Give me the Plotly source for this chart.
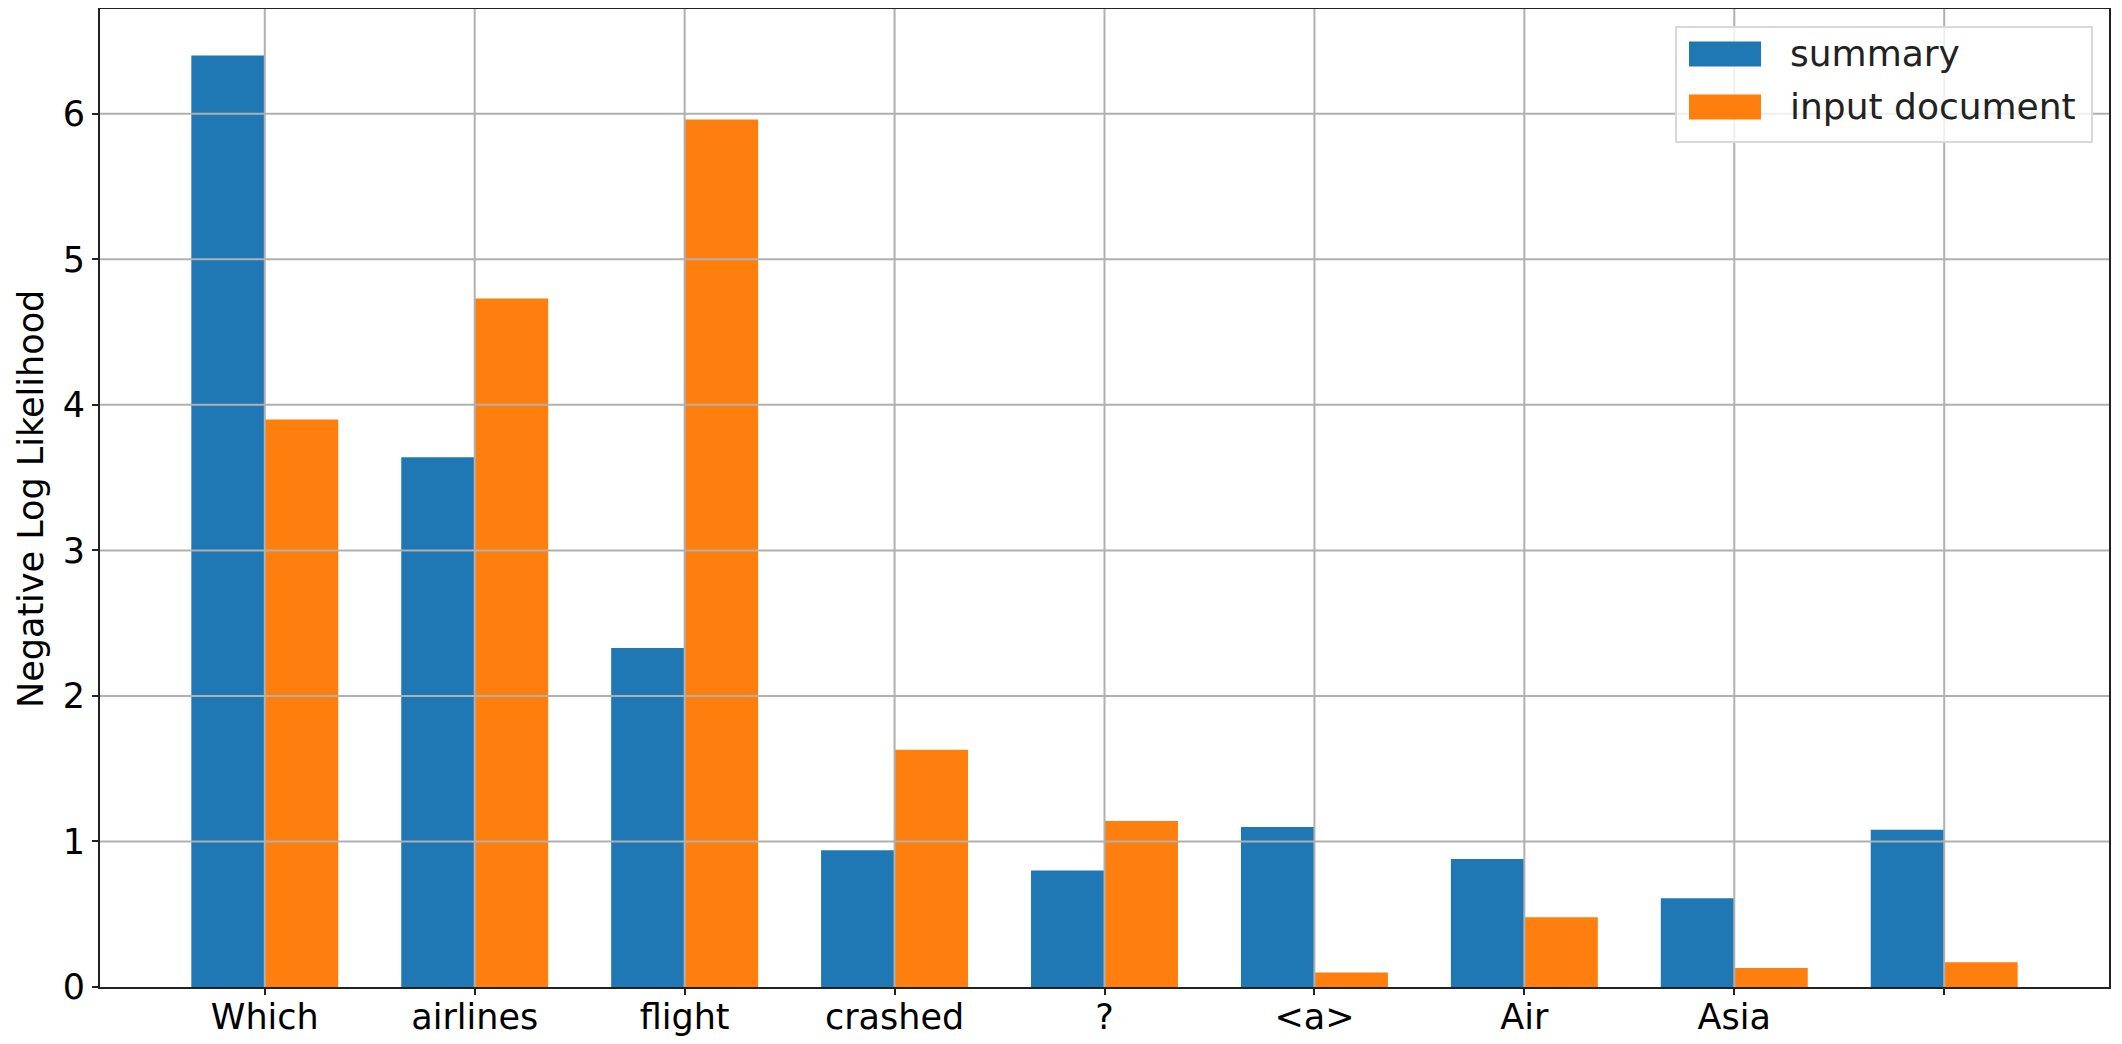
import html
import plotly.graph_objects as go

# token-level negative log likelihood
tokens = ["Which", "airlines", "flight", "crashed", "?", "<a>", "Air", "Asia", ""]
summary = [6.40, 3.64, 2.33, 0.94, 0.80, 1.10, 0.88, 0.61, 1.08]
input_document = [3.90, 4.73, 5.96, 1.63, 1.14, 0.10, 0.48, 0.13, 0.17]
y_ticks = [0, 1, 2, 3, 4, 5, 6]

BLUE = "#1f77b4"
ORANGE = "#ff7f0e"
GRID = "#b0b0b0"
FONT = "DejaVu Sans"

# the page body has an 8px margin, so the figure is a bit smaller than the window
OFF = 8
W, H = 2122 - OFF, 1044 - OFF
L, R, T, B = 100 - OFF, 13, 1, 57
bar_w = 0.35
idx = list(range(len(tokens)))

fig = go.Figure()
fig.add_trace(go.Bar(x=idx, y=summary, name="summary", width=bar_w, offset=-bar_w,
                     marker=dict(color=BLUE, line=dict(width=0))))
fig.add_trace(go.Bar(x=idx, y=input_document, name="input document", width=bar_w, offset=0,
                     marker=dict(color=ORANGE, line=dict(width=0))))

# matplotlib draws the grid over the bars, so use shapes on the top layer
for i in idx:
    fig.add_shape(type="line", xref="x", yref="paper", x0=i, x1=i, y0=0, y1=1,
                  line=dict(color=GRID, width=2), layer="above")
for v in y_ticks[1:]:
    fig.add_shape(type="line", xref="paper", yref="y", x0=0, x1=1, y0=v, y1=v,
                  line=dict(color=GRID, width=2), layer="above")

# page pixel -> paper helpers
pw, ph = W - L - R, H - T - B
def px(x):
    return (x - OFF - L) / pw
def py(y):
    return 1 - (y - OFF - T) / ph

# legend drawn by hand to get the wide matplotlib patches
fig.add_shape(type="rect", xref="paper", yref="paper",
              x0=px(1676), x1=px(2092), y0=py(142), y1=py(27),
              fillcolor="rgba(255,255,255,0.8)", line=dict(color="#d9d9d9", width=2),
              layer="above")
for name, color, yc in [("summary", BLUE, 54), ("input document", ORANGE, 107)]:
    fig.add_shape(type="rect", xref="paper", yref="paper",
                  x0=px(1689), x1=px(1761), y0=py(yc + 12.5), y1=py(yc - 12.5),
                  fillcolor=color, line=dict(width=0), layer="above")
    fig.add_annotation(text=name, xref="paper", yref="paper", x=px(1788), y=py(yc),
                       xanchor="left", yanchor="middle", showarrow=False,
                       font=dict(family=FONT, size=36, color="#222222"))

# y axis title as an annotation so the margin stays put
fig.add_annotation(text="Negative Log Likelihood", xref="paper", yref="paper",
                   x=px(31), y=py(499), xanchor="center", yanchor="middle",
                   textangle=-90, showarrow=False,
                   font=dict(family=FONT, size=35, color="black"))

fig.update_layout(
    width=W, height=H,
    margin=dict(l=L, r=R, t=T, b=B),
    plot_bgcolor="white", paper_bgcolor="white",
    barmode="overlay", showlegend=False,
    font=dict(family=FONT, size=35, color="black"),
)
fig.update_xaxes(
    range=[-0.785, 8.785], tickvals=idx, ticktext=[html.escape(t) for t in tokens],
    showgrid=False, zeroline=False, automargin=False,
    showline=True, mirror=True, linecolor="#222222", linewidth=2,
    ticks="outside", ticklen=6, tickwidth=2, tickcolor="#222222",
    ticklabelstandoff=-8,
)
fig.update_yaxes(
    range=[0, 6.72], tickvals=y_ticks,
    showgrid=False, zeroline=False, automargin=False,
    showline=True, mirror=True, linecolor="#222222", linewidth=2,
    ticks="outside", ticklen=6, tickwidth=2, tickcolor="#222222",
)

fig.write_html("out.html")
